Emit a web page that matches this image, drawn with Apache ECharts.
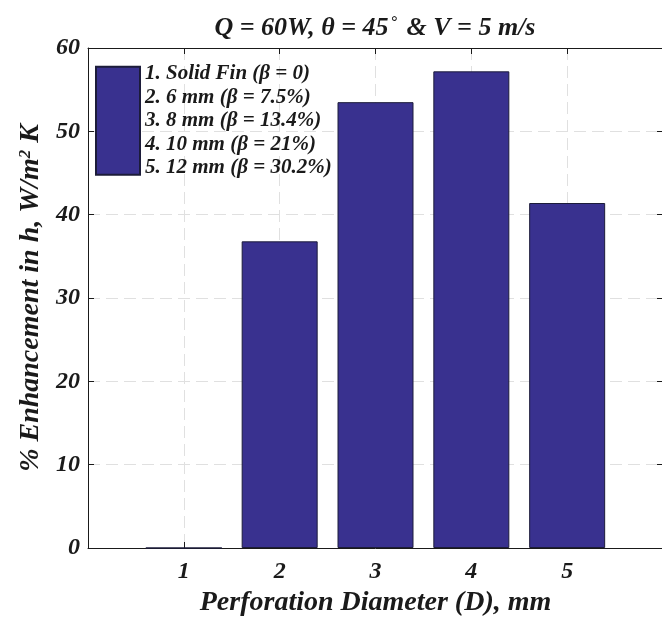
<!DOCTYPE html>
<html>
<head>
<meta charset="utf-8">
<script src="https://cdn.jsdelivr.net/npm/echarts@6/dist/echarts.min.js"></script>
<style>
html,body{margin:0;padding:0;background:#fff;}
#chart{width:662px;height:619px;}
</style>
</head>
<body>
<div id="chart"></div>
<script>
// ---- data ----
const categories = ['1', '2', '3', '4', '5'];
const enhancement = [0, 36.8, 53.5, 57.2, 41.4];
const yTicks = [0, 10, 20, 30, 40, 50, 60];
const legendLines = [
  '1. Solid Fin (β = 0)',
  '2. 6 mm (β = 7.5%)',
  '3. 8 mm (β = 13.4%)',
  '4. 10 mm (β = 21%)',
  '5. 12 mm (β = 30.2%)'
];
const seriesName = legendLines.join('\n');

// ---- styles ----
const FONT = 'Liberation Serif';
const txt = (size) => ({ fontFamily: FONT, fontWeight: 'bold', fontStyle: 'italic', fontSize: size, color: '#1a1a1a' });
const barColor = '#39318F';
const gridLine = { show: true, lineStyle: { color: '#e0e0e0', width: 1, type: [12, 6] } };
const axisLine = { show: true, onZero: false, lineStyle: { color: '#1a1a1a', width: 1 } };
const tick = { show: true, inside: true, length: 6, lineStyle: { color: '#1a1a1a' } };

const barData = categories.map((c, i) => [i + 1, enhancement[i]]);

const chart = echarts.init(document.getElementById('chart'), null, { renderer: 'canvas' });
chart.setOption({
  animation: false,
  backgroundColor: '#fff',
  title: {
    text: '{a|Q = 60W, θ = 45}{s|°}{a| & V = 5 m/s}',
    left: 375, top: 15, textAlign: 'center', padding: 0,
    textStyle: {
      rich: {
        a: txt(26),
        s: Object.assign(txt(16), { verticalAlign: 'top', padding: [0, 3, 0, 2] })
      }
    }
  },
  grid: { left: 88, top: 48, width: 575, height: 500, containLabel: false, outerBoundsMode: 'none' },
  legend: {
    data: [seriesName],
    left: 95, top: 62, padding: 0,
    itemWidth: 44, itemHeight: 108,
    icon: 'rect',
    textStyle: Object.assign(txt(21), { lineHeight: 23.5 })
  },
  xAxis: [
    {
      type: 'value', min: 0, max: 6, interval: 1, position: 'bottom',
      axisLine: axisLine, axisTick: tick,
      axisLabel: Object.assign(txt(24), {
        margin: 12,
        formatter: v => (v >= 1 && v <= categories.length) ? categories[v - 1] : ''
      }),
      splitLine: gridLine,
      name: 'Perforation Diameter (D), mm',
      nameLocation: 'middle', nameGap: 40,
      nameTextStyle: txt(28)
    },
    {
      type: 'value', min: 0, max: 6, interval: 1, position: 'top',
      axisLine: axisLine, axisTick: tick,
      axisLabel: { show: false },
      splitLine: { show: false }
    }
  ],
  yAxis: [
    {
      type: 'value', min: yTicks[0], max: yTicks[yTicks.length - 1], interval: yTicks[1] - yTicks[0],
      position: 'left',
      axisLine: axisLine, axisTick: tick,
      axisLabel: Object.assign(txt(24), { margin: 8 }),
      splitLine: gridLine,
      name: '{a|% Enhancement in h, W/m}{s|2}{a| K}',
      nameLocation: 'middle', nameGap: 40, nameRotate: 90,
      nameTextStyle: {
        rich: {
          a: txt(28),
          s: Object.assign(txt(17), { verticalAlign: 'top' })
        }
      }
    },
    {
      type: 'value', min: yTicks[0], max: yTicks[yTicks.length - 1], interval: yTicks[1] - yTicks[0],
      position: 'right',
      axisLine: axisLine, axisTick: tick,
      axisLabel: { show: false },
      splitLine: { show: false }
    }
  ],
  series: [
    {
      name: seriesName,
      type: 'bar',
      xAxisIndex: 0, yAxisIndex: 0,
      data: barData,
      barWidth: 76,
      itemStyle: { color: barColor, borderColor: '#1c1c3a', borderWidth: 1 }
    }
  ]
});
</script>
</body>
</html>
